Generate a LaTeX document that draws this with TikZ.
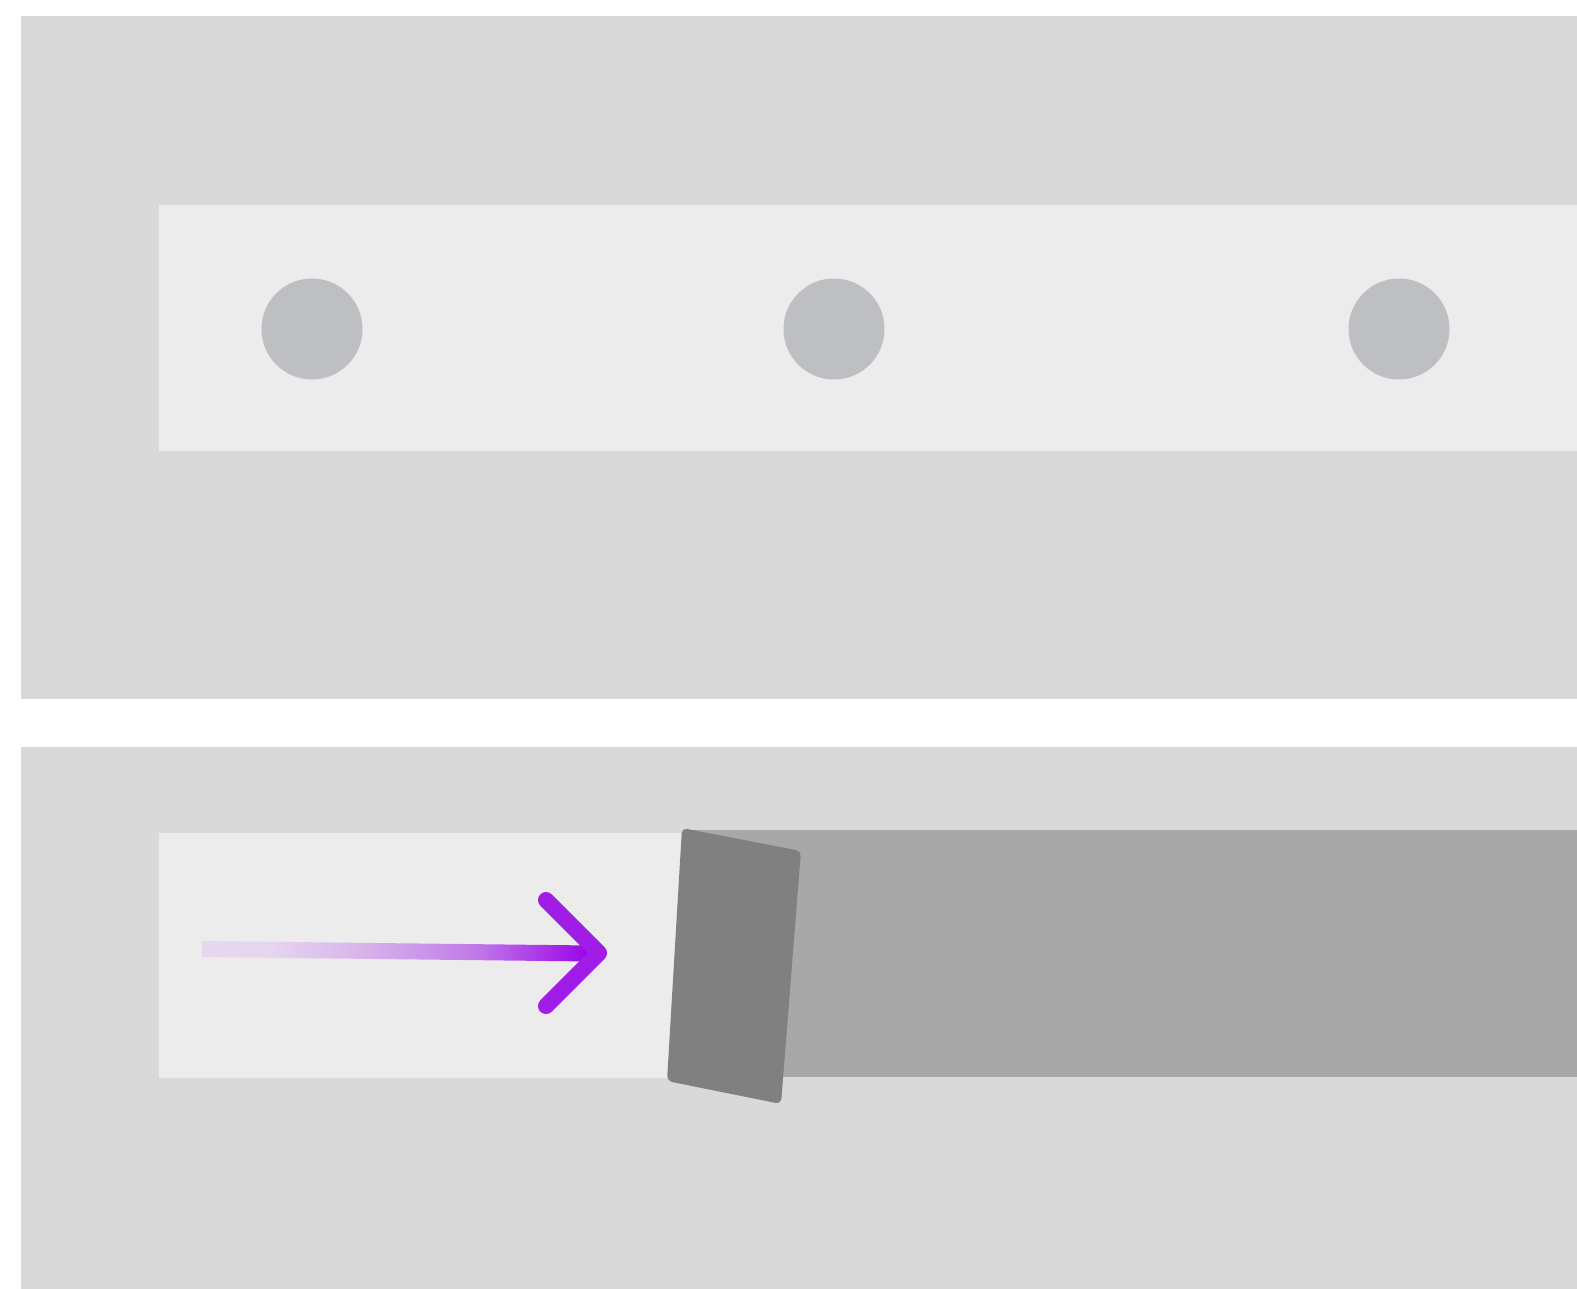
\documentclass[tikz,border=0pt]{standalone}
\definecolor{panel}{HTML}{D9D9D9}
\definecolor{strip}{HTML}{ECECEC}
\definecolor{dot}{HTML}{BEBFC3}
\definecolor{band}{HTML}{A8A8A8}
\definecolor{slab}{HTML}{808080}
\definecolor{aA}{HTML}{E6D7EE}
\definecolor{aB}{HTML}{D9B6EA}
\definecolor{aC}{HTML}{C17AE9}
\definecolor{aD}{HTML}{A21CE8}
\definecolor{aE}{HTML}{9A00E8}
\pgfdeclarehorizontalshading{arrowshade}{100bp}{color(0bp)=(aA); color(25bp)=(aA); color(33bp)=(aA); color(45bp)=(aB); color(60bp)=(aC); color(75bp)=(aE); color(100bp)=(aE)}
\tikzset{
  dotfill/.style={fill=dot},
  armstyle/.style={line width=16pt, line cap=round, line join=round, draw=aD}
}
\begin{document}
\begin{tikzpicture}[x=1pt,y=-1pt]
\useasboundingbox (0,0) rectangle (1577,1289);
\fill[white] (0,0) rectangle (1577,1289);
% top panel
\fill[panel] (21,16) rectangle (1577,699);
\fill[strip] (159,205) rectangle (1577,451);
\coordinate (d1) at (312,329);
\coordinate (d2) at (834,329);
\coordinate (d3) at (1399,329);
\foreach \d in {d1,d2,d3} \fill[dotfill] (\d) circle (50.5);
% bottom panel
\fill[panel] (21,747) rectangle (1577,1289);
\fill[strip] (159,833) rectangle (692,1078);
\fill[band] (688,830) rectangle (1577,1077);
\fill[slab, rounded corners=5pt] (682,828) -- (801,851) -- (781,1104) -- (667,1081) -- cycle;
% arrow
\coordinate (tail) at (202,949);
\coordinate (tip) at (599,953);
\coordinate (armA) at (546,900);
\coordinate (armB) at (546,1006);
\shade[shading=arrowshade] (202,941) -- (592,945.5) -- (592,961.5) -- (202,957) -- cycle;
\draw[armstyle] (armA) -- (tip) -- (armB);
\end{tikzpicture}
\end{document}
